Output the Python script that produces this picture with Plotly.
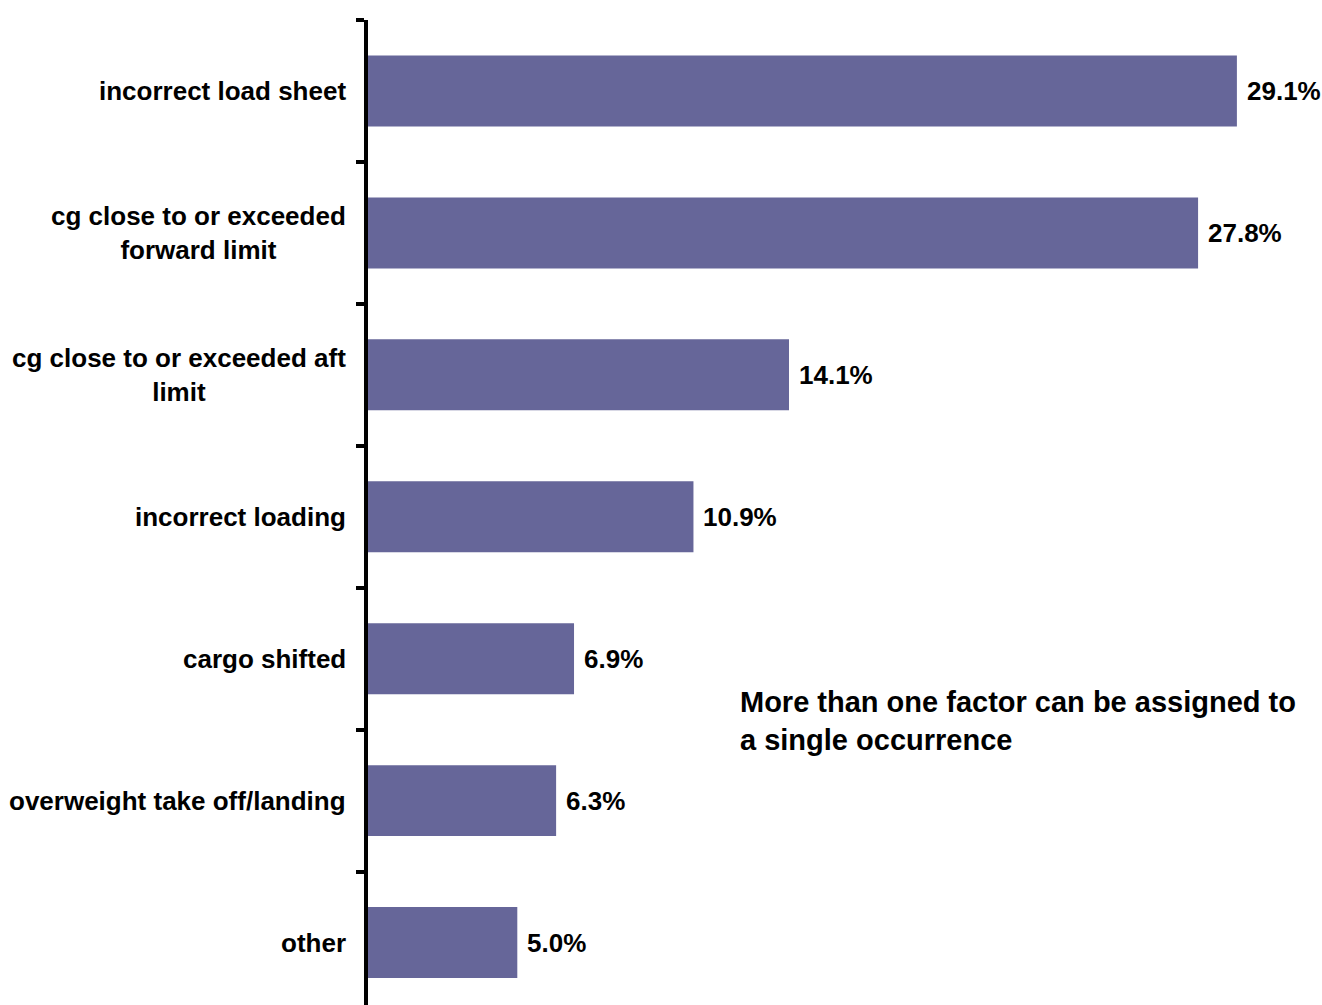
import plotly.graph_objects as go

categories = ["incorrect load sheet", "cg close to or exceeded<br>forward limit",
              "cg close to or exceeded aft<br>limit", "incorrect loading",
              "cargo shifted", "overweight take off/landing", "other"]
values = [29.1, 27.8, 14.1, 10.9, 6.9, 6.3, 5.0]
note_text = "More than one factor can be assigned to<br>a single occurrence"

FONT = "Liberation Sans, Arial, sans-serif"
BAR_COLOR = "#666699"

fig = go.Figure()
fig.add_trace(go.Bar(
    x=values, y=categories, orientation="h",
    marker=dict(color=BAR_COLOR, line=dict(width=0)),
    hoverinfo="skip",
))

annotations = []
for c, v in zip(categories, values):
    annotations.append(dict(
        x=0, xref="paper", y=c, yref="y", text=f"<b>{c}</b>",
        xanchor="right", yanchor="middle", align="center", xshift=-20,
        showarrow=False, font=dict(family=FONT, size=26, color="black")))
    annotations.append(dict(
        x=v, xref="x", y=c, yref="y", text=f"<b>{v:.1f}%</b>",
        xanchor="left", yanchor="middle", xshift=8,
        showarrow=False, font=dict(family=FONT, size=26, color="black")))
annotations.append(dict(
    x=0.388, xref="paper", y=0.288, yref="paper", text=f"<b>{note_text}</b>",
    xanchor="left", yanchor="middle", align="left", showarrow=False,
    font=dict(family=FONT, size=29, color="black")))

fig.update_layout(
    width=1322, height=1005,
    margin=dict(l=368, r=0, t=20, b=0),
    paper_bgcolor="white", plot_bgcolor="white",
    bargap=0.5, showlegend=False,
    xaxis=dict(visible=False, range=[0, 31.95]),
    yaxis=dict(type="category", categoryorder="array", categoryarray=categories,
               range=[6.44, -0.5], showticklabels=False, showgrid=False, zeroline=False,
               showline=True, linecolor="black", linewidth=4,
               ticks="outside", tickson="boundaries", ticklen=8, tickwidth=4, tickcolor="black"),
    annotations=annotations,
)

fig.write_html("out.html")
